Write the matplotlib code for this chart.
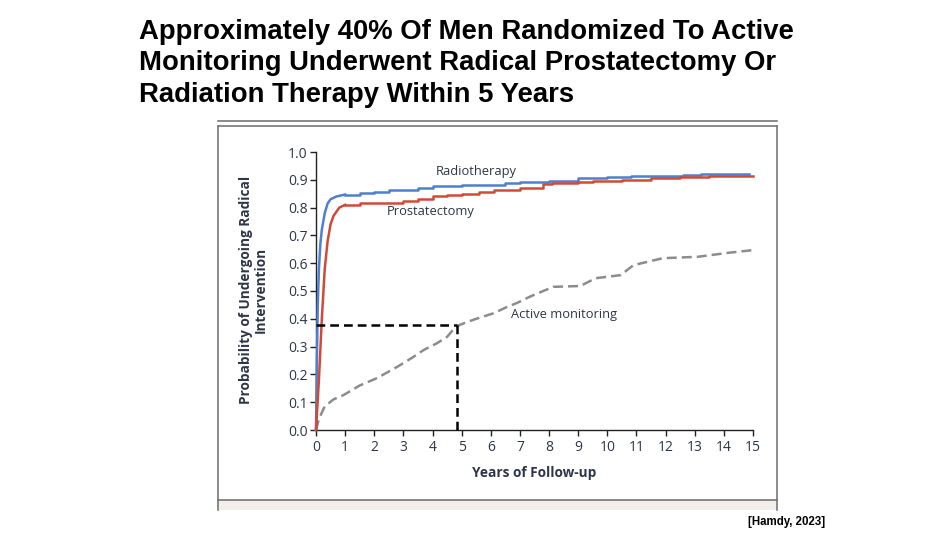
import matplotlib
matplotlib.use('agg')
import matplotlib.pyplot as plt
from matplotlib.patches import Rectangle
from matplotlib.lines import Line2D

# curves
radio_t = [0, 0.03, 0.06, 0.1, 0.15, 0.2, 0.3, 0.4, 0.5, 0.7, 1.0, 1.5, 2.0, 2.5, 3.0, 3.5, 4.0,
           4.5, 5.0, 6.0, 6.5, 7.0, 8.0, 8.5, 9.0, 9.5, 10.0, 10.8, 11.5, 12.6, 13.2, 14.85]
radio_p = [0, 0.25, 0.45, 0.58, 0.67, 0.72, 0.78, 0.815, 0.83, 0.84, 0.847, 0.852, 0.857, 0.862,
           0.865, 0.87, 0.876, 0.879, 0.88, 0.882, 0.888, 0.892, 0.895, 0.897, 0.905, 0.908, 0.91,
           0.913, 0.915, 0.918, 0.922, 0.922]

prost_t = [0, 0.1, 0.2, 0.3, 0.4, 0.5, 0.6, 0.8, 1.0, 1.5, 2.0, 3.0, 3.5, 4.0, 4.5, 5.0, 5.6,
           6.1, 7.0, 7.8, 8.1, 9.0, 9.5, 10.5, 11.5, 12.5, 13.5, 15.0]
prost_p = [0, 0.18, 0.4, 0.58, 0.68, 0.74, 0.77, 0.80, 0.81, 0.815, 0.818, 0.822, 0.83, 0.84,
           0.847, 0.85, 0.857, 0.863, 0.87, 0.885, 0.888, 0.893, 0.896, 0.9, 0.905, 0.91,
           0.914, 0.914]

active_t = [0, 0.1, 0.3, 0.6, 0.95, 1.5, 2.1, 2.8, 3.3, 3.7, 4.15, 4.5, 4.8, 5.1, 5.5, 6.1,
            6.5, 6.9, 7.35, 7.8, 8.15, 9.07, 9.6, 10.45, 10.9, 11.9, 13.1, 14.2, 15.0]
active_p = [0, 0.04, 0.085, 0.11, 0.126, 0.16, 0.187, 0.228, 0.26, 0.288, 0.312, 0.335, 0.372,
            0.385, 0.40, 0.42, 0.44, 0.457, 0.48, 0.50, 0.515, 0.518, 0.546, 0.557, 0.593,
            0.618, 0.623, 0.638, 0.647]

ref_year = 4.85
ref_prob = 0.378

x_ticks = list(range(0, 16))
y_ticks = [0.0, 0.1, 0.2, 0.3, 0.4, 0.5, 0.6, 0.7, 0.8, 0.9, 1.0]

W, H = 950, 535
fig = plt.figure(figsize=(9.5, 5.35), dpi=100)
fig.patch.set_facecolor('white')

def fx(px):
    return px / W

def fy(py):
    return 1 - py / H

TXT = '#2e3548'

# title
fig.text(fx(139), fy(19), 'Approximately 40% Of Men Randomized To Active\n'
         'Monitoring Underwent Radical Prostatectomy Or\n'
         'Radiation Therapy Within 5 Years',
         ha='left', va='top', fontsize=19.8, fontweight='bold',
         family='Liberation Sans', linespacing=1.27, color='black')

# panel frame
fig.add_artist(Line2D([fx(218), fx(777)], [fy(121), fy(121)], color='#777777', lw=1.2))
fig.add_artist(Line2D([fx(218), fx(777)], [fy(126), fy(126)], color='#777777', lw=1.2))
fig.add_artist(Line2D([fx(218), fx(218)], [fy(126), fy(510)], color='#777777', lw=1.2))
fig.add_artist(Line2D([fx(777), fx(777)], [fy(126), fy(510)], color='#777777', lw=1.2))
fig.add_artist(Rectangle((fx(218), fy(510)), fx(777) - fx(218), fy(500) - fy(510),
                         transform=fig.transFigure, facecolor='#f2efea', edgecolor='none'))
fig.add_artist(Line2D([fx(218), fx(777)], [fy(500), fy(500)], color='#777777', lw=1.2))

ax = fig.add_axes([fx(316), fy(430), fx(753) - fx(316), fy(152) - fy(430)])
ax.set_facecolor('white')

# steep first year drawn as a line, later follow-up as Kaplan-Meier style steps
for t, p, c in [(radio_t, radio_p, '#4f7fd0'), (prost_t, prost_p, '#d24a36')]:
    k = t.index(1.0)
    ax.plot(t[:k + 1], p[:k + 1], color=c, lw=1.8, clip_on=False, zorder=3,
            solid_joinstyle='round')
    ax.step(t[k:], p[k:], where='post', color=c, lw=1.8, clip_on=False, zorder=3)
ax.plot(active_t, active_p, color='#8c8c8c', lw=1.8, dashes=(4, 2), clip_on=False, zorder=2)

ax.plot([0, ref_year], [ref_prob, ref_prob], color='black', lw=1.8, dashes=(3.5, 2),
        clip_on=False, zorder=4)
ax.plot([ref_year, ref_year], [0, ref_prob], color='black', lw=1.8, dashes=(3.5, 2),
        clip_on=False, zorder=4)

ax.text(5.5, 0.93, 'Radiotherapy', ha='center', va='center', fontsize=9.3,
        family='Open Sans', color=TXT)
ax.text(3.95, 0.785, 'Prostatectomy', ha='center', va='center', fontsize=9.3,
        family='Open Sans', color=TXT)
ax.text(6.7, 0.417, 'Active monitoring', ha='left', va='center', fontsize=9.3,
        family='Open Sans', color=TXT)

ax.set_xlim(0, 15)
ax.set_ylim(0, 1)
ax.set_xticks(x_ticks)
ax.set_yticks(y_ticks)
ax.set_yticklabels([f'{v:.1f}' for v in y_ticks])
for s in ['top', 'right']:
    ax.spines[s].set_visible(False)
for s in ['left', 'bottom']:
    ax.spines[s].set_color('#222222')
    ax.spines[s].set_linewidth(1.0)
ax.tick_params(direction='out', length=4, width=1, color='#222222',
               labelsize=10, labelcolor=TXT)
ax.tick_params(axis='x', pad=3)
ax.tick_params(axis='y', pad=2)
for lab in ax.get_xticklabels() + ax.get_yticklabels():
    lab.set_family('Open Sans')

ax.set_xlabel('Years of Follow-up', fontsize=9.8, fontweight='bold',
              family='Open Sans', color=TXT, labelpad=8)
fig.text(fx(253), fy(290), 'Probability of Undergoing Radical\nIntervention',
         rotation=90, ha='center', va='center', multialignment='center',
         fontsize=9.8, fontweight='bold', family='Open Sans', color=TXT,
         linespacing=1.05)

fig.text(fx(825), fy(522), '[Hamdy, 2023]', ha='right', va='center', fontsize=8.3,
         fontweight='bold', family='Liberation Sans', color='black')

fig.savefig('out.png', dpi=100)
